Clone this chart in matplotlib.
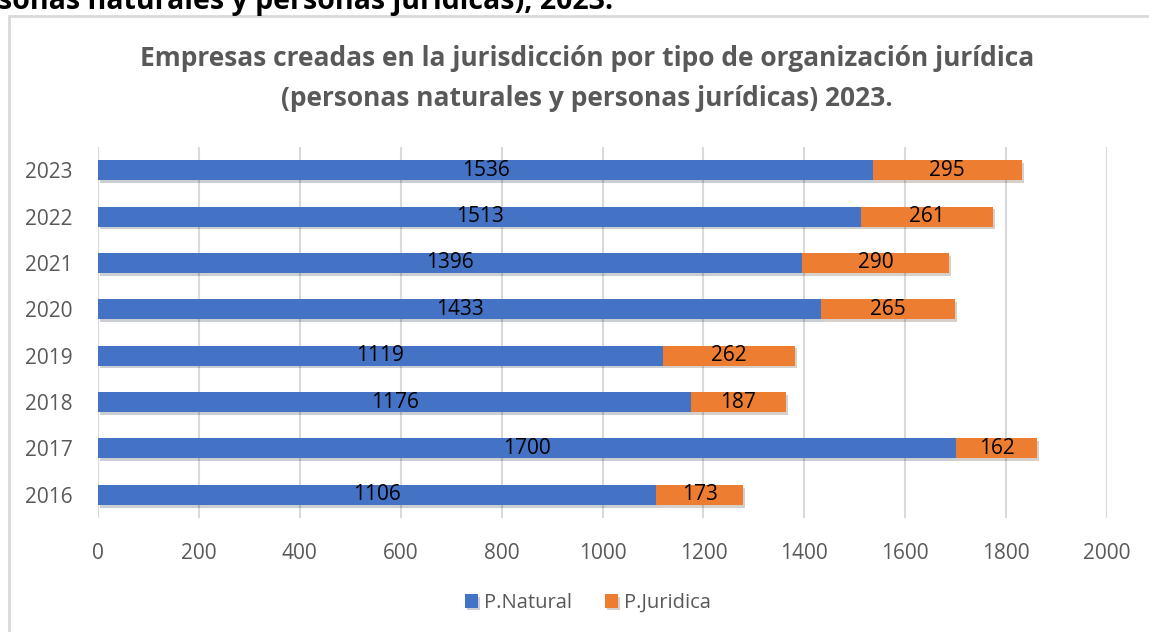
import matplotlib.pyplot as plt
import matplotlib.patheffects as pe
from matplotlib.patches import Rectangle

plt.rcParams['font.family'] = ['Open Sans', 'DejaVu Sans']

# datos
years = ['2016', '2017', '2018', '2019', '2020', '2021', '2022', '2023']
natural = [1106, 1700, 1176, 1119, 1433, 1396, 1513, 1536]
juridica = [173, 162, 187, 262, 265, 290, 261, 295]
xticks = [0, 200, 400, 600, 800, 1000, 1200, 1400, 1600, 1800, 2000]

W, H = 1149, 632
fig = plt.figure(figsize=(W / 100, H / 100), dpi=100)

# encabezado cortado de la página
fig.text(-2 / W, 1 - 9 / H, 'sonas naturales y personas jurídicas), 2023.',
         fontsize=20.5, fontweight='bold', color='black', ha='left', va='baseline')

# borde del área del gráfico
fig.patches.append(Rectangle((9 / W, -0.1), 1.2, 1 - 16 / H + 0.1, transform=fig.transFigure,
                             fill=False, edgecolor='#D9D9D9', linewidth=2))

fig.text(587 / W, 1 - 58 / H, 'Empresas creadas en la jurisdicción por tipo de organización jurídica',
         fontsize=19, fontweight='bold', color='#595959', ha='center', va='center')
fig.text(587 / W, 1 - 98 / H, '(personas naturales y personas jurídicas) 2023.',
         fontsize=19, fontweight='bold', color='#595959', ha='center', va='center')

ax = fig.add_axes([98 / W, 1 - 518 / H, 1009 / W, 371 / H])
shadow = [pe.SimplePatchShadow(offset=(1.5, -2), alpha=0.22), pe.Normal()]
b1 = ax.barh(years, natural, height=0.43, color='#4472C4', label='P.Natural', zorder=3,
             path_effects=shadow)
b2 = ax.barh(years, juridica, left=natural, height=0.43, color='#ED7D31', label='P.Juridica',
             zorder=3, path_effects=shadow)
ax.bar_label(b1, label_type='center', fontsize=15, color='black')
ax.bar_label(b2, label_type='center', fontsize=15, color='black')

ax.set_xlim(0, 2000)
ax.set_ylim(-0.5, 7.5)
ax.set_xticks(xticks)
ax.grid(axis='x', color='#D9D9D9', linewidth=1.5, zorder=0)
for s in ax.spines.values():
    s.set_visible(False)
ax.tick_params(axis='both', length=0, labelsize=15, labelcolor='#595959')
ax.tick_params(axis='x', pad=18)
ax.tick_params(axis='y', pad=18)

fig.legend(handles=[b1, b2], loc='center', bbox_to_anchor=(588 / W, 1 - 603 / H), ncol=2,
           frameon=False, fontsize=14.5, labelcolor='#595959', handlelength=0.65, handleheight=0.65,
           handletextpad=0.3, columnspacing=1.6)

fig.savefig('out.png', dpi=100)
